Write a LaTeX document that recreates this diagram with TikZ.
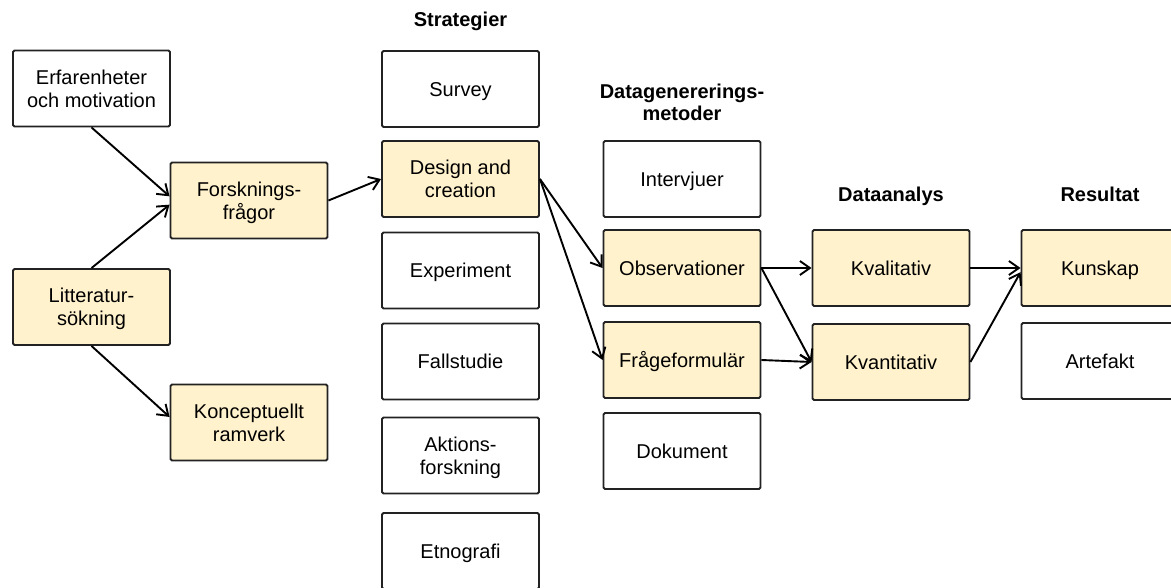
\documentclass[tikz,border=0pt]{standalone}
\usepackage{fontspec}
\setmainfont{Liberation Sans}
\usetikzlibrary{arrows.meta}
\definecolor{boxfill}{HTML}{FFF2CC}
\definecolor{boxline}{HTML}{222222}

\begin{document}
\begin{tikzpicture}[x=1pt,y=-1pt,
    box/.style={draw=boxline,line width=1.9pt,rounded corners=1.5pt,
      minimum width=157pt,minimum height=76pt,inner sep=0pt,align=center,
      text depth=0pt,font=\fontsize{20}{23}\selectfont},
    hl/.style={box,fill=boxfill},
    one/.style={text height=14.3pt},
    head/.style={align=center,text depth=0pt,font=\fontsize{20}{22}\selectfont\bfseries},
    conn/.style={-{Straight Barb[length=10pt,width=14pt]},line width=1.9pt}]
    \clip (0,0) rectangle (1171,587);

    % forskningsfragor
    \node[box] (erf) at (91.5,88.5) {Erfarenheter\\och motivation};
    \node[hl] (fors) at (249,200.5) {Forsknings-\\frågor};
    \node[hl] (litt) at (91.5,307) {Litteratur-\\sökning};
    \node[hl] (konc) at (249,422.5) {Konceptuellt\\ramverk};

    % strategier
    \node[head] (strat) at (460.5,19) {Strategier};
    \node[box,one] (surv) at (460.5,89) {Survey};
    \node[hl] (des) at (460.5,179) {Design and\\creation};
    \node[box,one] (exp) at (460.5,270.5) {Experiment};
    \node[box,one] (fall) at (460.5,361.5) {Fallstudie};
    \node[box] (akt) at (460.5,455.5) {Aktions-\\forskning};
    \node[box,one] (etn) at (460.5,551) {Etnografi};

    % datagenerering
    \node[head] (dgm) at (682,102) {Datagenererings-\\metoder};
    \node[box,one] (int) at (682,179) {Intervjuer};
    \node[hl,one] (obs) at (682,268) {Observationer};
    \node[hl,one] (frag) at (682,360) {Frågeformulär};
    \node[box,one] (dok) at (682,451) {Dokument};

    % dataanalys och resultat
    \node[head] (dan) at (891,194) {Dataanalys};
    \node[hl,one] (kval) at (891,268) {Kvalitativ};
    \node[hl,one] (kvan) at (891,362) {Kvantitativ};
    \node[head] (res) at (1100,194) {Resultat};
    \node[hl,one] (kun) at (1100,268) {Kunskap};
    \node[box,one] (art) at (1100,361) {Artefakt};

    % pilar
    \draw[conn] (erf.south) -- (fors.177);
    \draw[conn] (litt.north) -- (fors.183);
    \draw[conn] (litt.south) -- (konc.176);
    \draw[conn] (fors.east) -- (des.west);
    \draw[conn] (des.east) -- (obs.west);
    \draw[conn] (des.east) -- (frag.west);
    \draw[conn] (obs.east) -- (kval.west);
    \draw[conn] (obs.east) -- (kvan.west);
    \draw[conn] (frag.east) -- (kvan.west);
    \draw[conn] (kval.east) -- (kun.west);
    \draw[conn] (kvan.east) -- (kun.183);
\end{tikzpicture}
\end{document}
